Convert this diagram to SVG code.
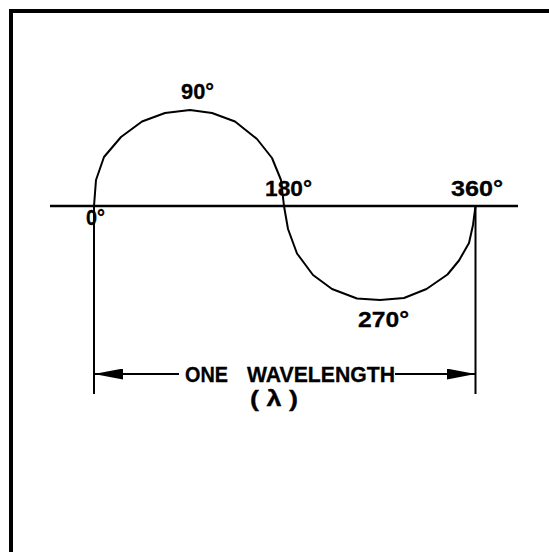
<svg xmlns="http://www.w3.org/2000/svg" width="549" height="552" viewBox="0 0 549 552">
<style>
.ln{fill:none;stroke:#000;stroke-width:2;stroke-linejoin:round}
.lb{font-family:"Liberation Sans",Arial,sans-serif;font-weight:bold;font-size:22px;fill:#000;stroke:#000;stroke-width:0.3}
</style>
<defs>
<marker id="ah" viewBox="0 0 29 11" refX="29" refY="5.5" markerWidth="29" markerHeight="11" markerUnits="userSpaceOnUse" orient="auto-start-reverse">
<path d="M0,0 L29,5.5 L0,11 Z" fill="#000"/>
</marker>
</defs>
<rect width="549" height="552" fill="#fff"/>
<g id="frame"><path d="M11,552 V11 H549" fill="none" stroke="#000" stroke-width="4"/></g>
<g id="axis"><line x1="50" y1="206" x2="518" y2="206" stroke="#000" stroke-width="2.5"/></g>
<g id="wave"><polyline class="ln" points="94,206 96,180 104,157 121,137 142,121.5 165,113 190,110 212,113 235,121.5 257,139 272,158 281,180 284,206 288,229 297,253.5 313,275 332,289 357,298.5 380,300 404,298 426.5,289 447.5,274.5 459,260.5 469,243 473,225 475.5,206"/></g>
<g id="connectors">
<line class="ln" x1="94" y1="206" x2="94" y2="394"/>
<line class="ln" x1="475.5" y1="206" x2="475.5" y2="394"/>
<line class="ln" x1="179" y1="374" x2="94" y2="374" marker-end="url(#ah)"/>
<line class="ln" x1="395" y1="374" x2="475.5" y2="374" marker-end="url(#ah)"/>
</g>
<g id="labels">
<text class="lb" x="181" y="99" textLength="33" lengthAdjust="spacingAndGlyphs">90°</text>
<text class="lb" x="86" y="225" textLength="19" lengthAdjust="spacingAndGlyphs">0°</text>
<text class="lb" x="265" y="196" textLength="47" lengthAdjust="spacingAndGlyphs">180°</text>
<text class="lb" x="451" y="196" textLength="52" lengthAdjust="spacingAndGlyphs">360°</text>
<text class="lb" x="358" y="327" textLength="51" lengthAdjust="spacingAndGlyphs">270°</text>
<text class="lb" x="185" y="382" textLength="43" lengthAdjust="spacingAndGlyphs">ONE</text>
<text class="lb" x="247" y="382" textLength="148" lengthAdjust="spacingAndGlyphs">WAVELENGTH</text>
<text class="lb" x="250" y="406" textLength="48" lengthAdjust="spacingAndGlyphs">( λ )</text>
</g>
</svg>
